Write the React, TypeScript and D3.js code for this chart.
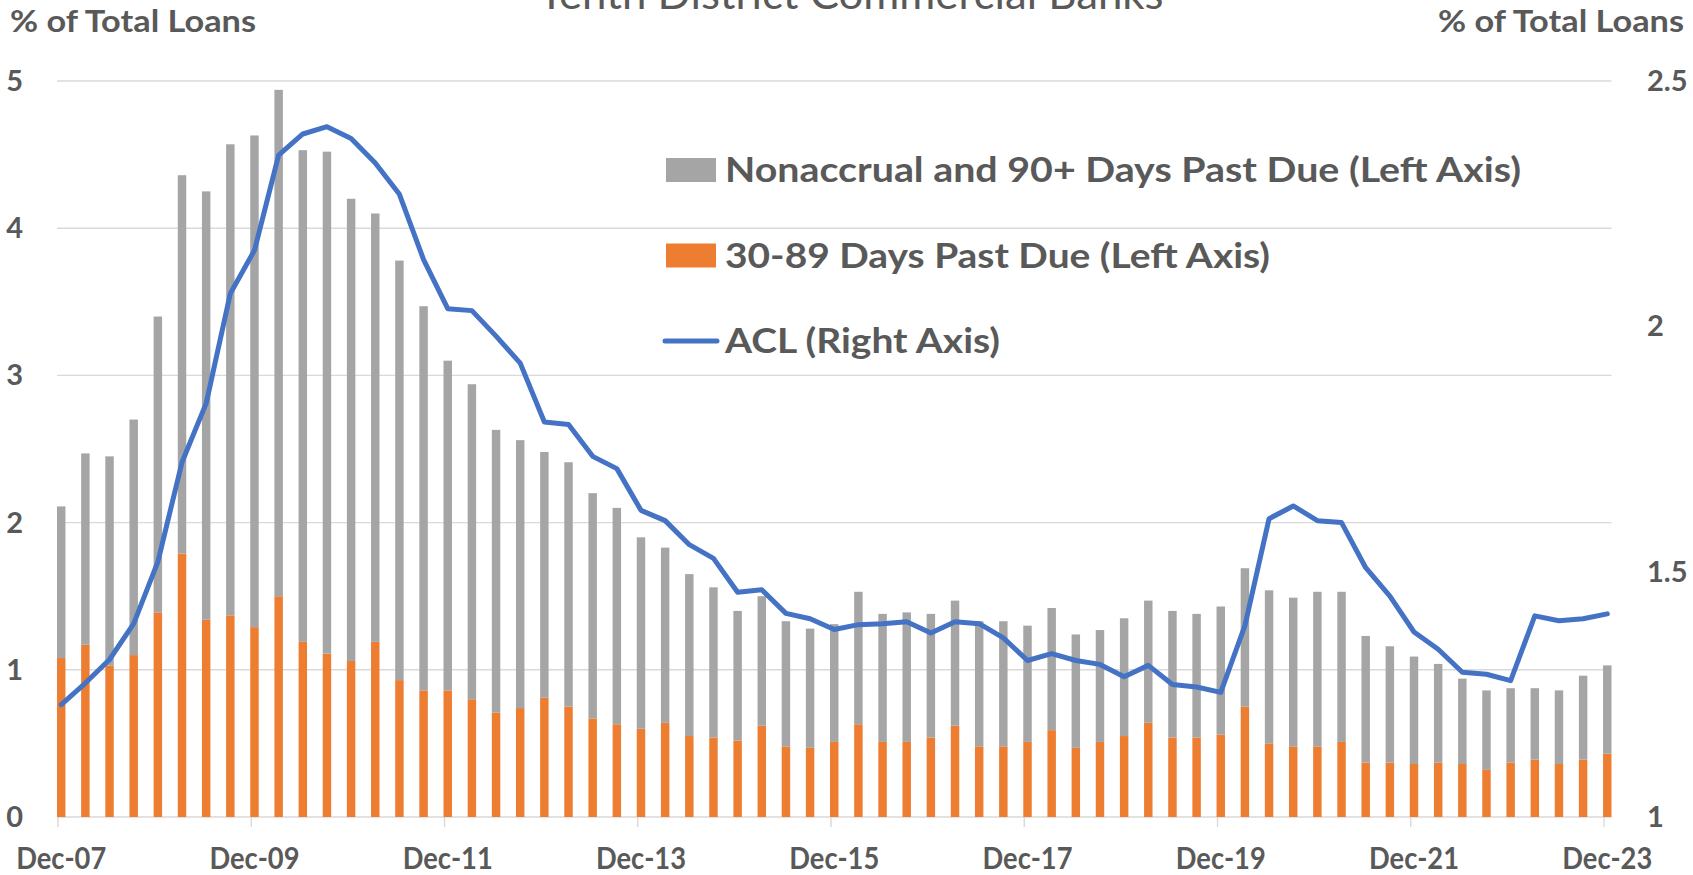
import React, { useEffect, useRef } from 'react';
import * as d3 from 'd3';

// quarterly, Dec-07 .. Dec-23
const quarters = [
  'Dec-07',
  'Mar-08', 'Jun-08', 'Sep-08', 'Dec-08',
  'Mar-09', 'Jun-09', 'Sep-09', 'Dec-09',
  'Mar-10', 'Jun-10', 'Sep-10', 'Dec-10',
  'Mar-11', 'Jun-11', 'Sep-11', 'Dec-11',
  'Mar-12', 'Jun-12', 'Sep-12', 'Dec-12',
  'Mar-13', 'Jun-13', 'Sep-13', 'Dec-13',
  'Mar-14', 'Jun-14', 'Sep-14', 'Dec-14',
  'Mar-15', 'Jun-15', 'Sep-15', 'Dec-15',
  'Mar-16', 'Jun-16', 'Sep-16', 'Dec-16',
  'Mar-17', 'Jun-17', 'Sep-17', 'Dec-17',
  'Mar-18', 'Jun-18', 'Sep-18', 'Dec-18',
  'Mar-19', 'Jun-19', 'Sep-19', 'Dec-19',
  'Mar-20', 'Jun-20', 'Sep-20', 'Dec-20',
  'Mar-21', 'Jun-21', 'Sep-21', 'Dec-21',
  'Mar-22', 'Jun-22', 'Sep-22', 'Dec-22',
  'Mar-23', 'Jun-23', 'Sep-23', 'Dec-23',
];

const tickLabels = ['Dec-07', 'Dec-09', 'Dec-11', 'Dec-13', 'Dec-15', 'Dec-17', 'Dec-19', 'Dec-21', 'Dec-23'];

// 30-89 days past due, % of total loans (left axis)
const pastDue30to89 = [
  1.08,
  1.17, 1.03, 1.10, 1.39,
  1.79, 1.34, 1.37, 1.29,
  1.50, 1.19, 1.11, 1.06,
  1.19, 0.93, 0.86, 0.86,
  0.80, 0.71, 0.74, 0.81,
  0.75, 0.67, 0.63, 0.60,
  0.64, 0.55, 0.54, 0.52,
  0.62, 0.48, 0.47, 0.51,
  0.63, 0.51, 0.51, 0.54,
  0.62, 0.48, 0.48, 0.51,
  0.59, 0.47, 0.51, 0.55,
  0.64, 0.54, 0.54, 0.56,
  0.75, 0.50, 0.48, 0.48,
  0.51, 0.37, 0.37, 0.36,
  0.37, 0.36, 0.32, 0.37,
  0.39, 0.36, 0.39, 0.43,
];

// nonaccrual and 90+ days past due, stacked on top (left axis)
const nonaccrual90 = [
  1.03,
  1.30, 1.42, 1.60, 2.01,
  2.57, 2.91, 3.20, 3.34,
  3.44, 3.34, 3.41, 3.14,
  2.91, 2.85, 2.61, 2.24,
  2.14, 1.92, 1.82, 1.67,
  1.66, 1.53, 1.47, 1.30,
  1.19, 1.10, 1.02, 0.88,
  0.88, 0.85, 0.81, 0.80,
  0.90, 0.87, 0.88, 0.84,
  0.85, 0.85, 0.85, 0.79,
  0.83, 0.77, 0.76, 0.80,
  0.83, 0.86, 0.84, 0.87,
  0.94, 1.04, 1.01, 1.05,
  1.02, 0.86, 0.79, 0.73,
  0.67, 0.58, 0.54, 0.505,
  0.485, 0.50, 0.57, 0.60,
];

// allowance for credit losses (right axis)
const acl = [
  1.229,
  1.273, 1.321, 1.394, 1.520,
  1.723, 1.843, 2.067, 2.155,
  2.349, 2.392, 2.407, 2.383,
  2.333, 2.269, 2.136, 2.036,
  2.032, 1.980, 1.925, 1.805,
  1.800, 1.735, 1.710, 1.625,
  1.604, 1.555, 1.527, 1.458,
  1.463, 1.415, 1.404, 1.382,
  1.392, 1.394, 1.398, 1.375,
  1.398, 1.394, 1.365, 1.319,
  1.333, 1.319, 1.311, 1.286,
  1.309, 1.270, 1.265, 1.254,
  1.390, 1.608, 1.634, 1.604,
  1.600, 1.508, 1.450, 1.377,
  1.342, 1.295, 1.291, 1.278,
  1.410, 1.400, 1.404, 1.414,
];

const leftTicks = [0, 1, 2, 3, 4, 5];
const rightTicks = [1, 1.5, 2, 2.5];

const legendItems = [
  { label: 'Nonaccrual and 90+ Days Past Due (Left Axis)', color: '#a5a5a5', kind: 'bar' },
  { label: '30-89 Days Past Due (Left Axis)', color: '#ed7d31', kind: 'bar' },
  { label: 'ACL (Right Axis)', color: '#4472c4', kind: 'line' },
];
const legendWidths = [796, 545, 275];

const TEXT = '#595959';
const GRID = '#d9d9d9';
const FONT = 'Lato, "Open Sans", sans-serif';

const LoanChart = () => {
  const chartRef = useRef<SVGSVGElement>(null);

  useEffect(() => {
    const svg = d3.select(chartRef.current);
    svg.selectAll('*').remove();

    const left = 57, right = 1611.5, top = 81, bottom = 817;

    const x = d3.scaleBand()
      .domain(quarters)
      .range([left, right])
      .paddingInner(0.65)
      .paddingOuter(0)
      .align(0);
    const bw = x.bandwidth();

    const yLeft = d3.scaleLinear().domain([0, 5]).range([bottom, top]);
    const yRight = d3.scaleLinear().domain([1, 2.5]).range([bottom, top]);

    // title (cut off at the top in the original)
    svg.append('text')
      .attr('x', 851).attr('y', 9)
      .attr('text-anchor', 'middle')
      .attr('font-size', 42)
      .attr('fill', TEXT)
      .attr('textLength', 625).attr('lengthAdjust', 'spacingAndGlyphs')
      .text('Tenth District Commercial Banks');

    // gridlines
    svg.append('g').selectAll('line')
      .data(leftTicks)
      .enter().append('line')
      .attr('x1', left).attr('x2', right)
      .attr('y1', d => yLeft(d)).attr('y2', d => yLeft(d))
      .attr('stroke', GRID).attr('stroke-width', 1.4);

    // stacked bars
    const rows = quarters.map((q, i) => ({ q, past: pastDue30to89[i], non: nonaccrual90[i] }));
    const stacked = d3.stack<any>().keys(['past', 'non'])(rows);
    const colors: Record<string, string> = { past: '#ed7d31', non: '#a5a5a5' };

    svg.append('g').selectAll('g')
      .data(stacked)
      .enter().append('g')
      .attr('fill', d => colors[d.key])
      .selectAll('rect')
      .data(d => d)
      .enter().append('rect')
      .attr('x', d => x(d.data.q) as number)
      .attr('y', d => yLeft(d[1]))
      .attr('width', bw)
      .attr('height', d => yLeft(d[0]) - yLeft(d[1]));

    // x axis ticks and labels
    svg.append('g').selectAll('line')
      .data(tickLabels)
      .enter().append('line')
      .attr('x1', d => (x(d) as number) + 1).attr('x2', d => (x(d) as number) + 1)
      .attr('y1', bottom).attr('y2', bottom + 10)
      .attr('stroke', GRID).attr('stroke-width', 1.4);

    svg.append('g').selectAll('text')
      .data(tickLabels)
      .enter().append('text')
      .attr('x', d => (x(d) as number) + bw / 2)
      .attr('y', 869)
      .attr('text-anchor', 'middle')
      .attr('font-size', 30).attr('font-weight', 'bold')
      .attr('fill', TEXT)
      .attr('textLength', 90).attr('lengthAdjust', 'spacingAndGlyphs')
      .text(d => d);

    // ACL line
    const line = d3.line<number>()
      .x((d, i) => (x(quarters[i]) as number) + bw / 2)
      .y(d => yRight(d));

    svg.append('path')
      .datum(acl)
      .attr('d', line)
      .attr('fill', 'none')
      .attr('stroke', '#4472c4')
      .attr('stroke-width', 5)
      .attr('stroke-linejoin', 'round')
      .attr('stroke-linecap', 'round');

    // y axis labels
    svg.append('g').selectAll('text')
      .data(leftTicks)
      .enter().append('text')
      .attr('x', 23).attr('y', d => yLeft(d) + 10)
      .attr('text-anchor', 'end')
      .attr('font-size', 29).attr('font-weight', 'bold')
      .attr('fill', TEXT)
      .text(d => d);

    svg.append('g').selectAll('text')
      .data(rightTicks)
      .enter().append('text')
      .attr('x', 1647).attr('y', d => yRight(d) + 10)
      .attr('font-size', 29).attr('font-weight', 'bold')
      .attr('fill', TEXT)
      .text(d => d);

    // axis titles
    svg.append('text')
      .attr('x', 10).attr('y', 32)
      .attr('font-size', 31).attr('font-weight', 'bold')
      .attr('fill', TEXT)
      .attr('textLength', 246).attr('lengthAdjust', 'spacingAndGlyphs')
      .text('% of Total Loans');

    svg.append('text')
      .attr('x', 1684).attr('y', 32)
      .attr('text-anchor', 'end')
      .attr('font-size', 31).attr('font-weight', 'bold')
      .attr('fill', TEXT)
      .attr('textLength', 246).attr('lengthAdjust', 'spacingAndGlyphs')
      .text('% of Total Loans');

    // legend
    const legend = svg.append('g');
    legendItems.forEach((item, i) => {
      const base = 182 + i * 85.5;
      if (item.kind === 'bar') {
        legend.append('rect')
          .attr('x', 666).attr('y', base - 24)
          .attr('width', 50).attr('height', 24)
          .attr('fill', item.color);
      } else {
        legend.append('line')
          .attr('x1', 665).attr('x2', 717)
          .attr('y1', base - 12).attr('y2', base - 12)
          .attr('stroke', item.color).attr('stroke-width', 5)
          .attr('stroke-linecap', 'round');
      }
      legend.append('text')
        .attr('x', 725).attr('y', base)
        .attr('font-size', 35).attr('font-weight', 'bold')
        .attr('fill', TEXT)
        .attr('textLength', legendWidths[i]).attr('lengthAdjust', 'spacingAndGlyphs')
        .text(item.label);
    });
  }, []);

  return (
    <svg
      ref={chartRef}
      width={1693}
      height={875}
      style={{ fontFamily: FONT, background: '#fff', display: 'block' }}
    ></svg>
  );
};

export default function App() {
  return (
    <div style={{ position: 'absolute', left: 0, top: 0 }}>
      <LoanChart />
    </div>
  );
}
